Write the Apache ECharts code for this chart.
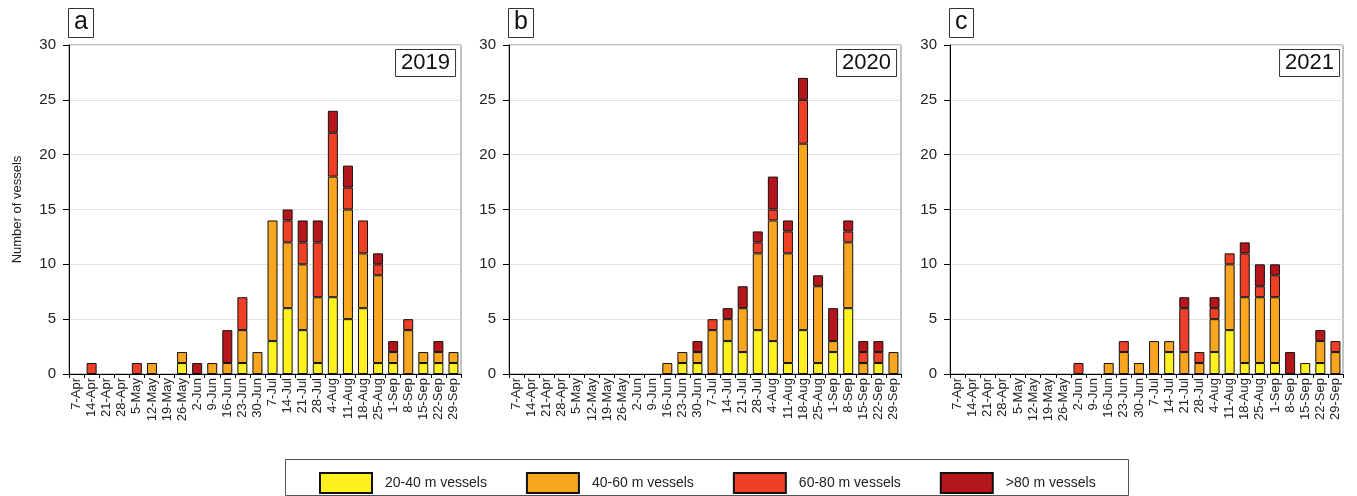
<!DOCTYPE html>
<html>
<head>
<meta charset="utf-8">
<script src="https://cdn.jsdelivr.net/npm/echarts@6/dist/echarts.min.js"></script>
<style>html,body{margin:0;padding:0;background:#fff}#c{width:1357px;height:496px}</style>
</head>
<body>
<div id="c"></div>
<script>
const categories = ['7-Apr','14-Apr','21-Apr','28-Apr','5-May','12-May','19-May','26-May','2-Jun','9-Jun','16-Jun','23-Jun','30-Jun','7-Jul','14-Jul','21-Jul','28-Jul','4-Aug','11-Aug','18-Aug','25-Aug','1-Sep','8-Sep','15-Sep','22-Sep','29-Sep'];
const seriesNames = ['20-40 m vessels','40-60 m vessels','60-80 m vessels','>80 m vessels'];
const years = ['2019','2020','2021'];
const panelLetters = ['a','b','c'];
const yTicks = [0,5,10,15,20,25,30];

// 2019
const v2019_20_40 = [0,0,0,0,0,0,0,1,0,0,0,1,0,3,6,4,1,7,5,6,1,1,0,1,1,1];
const v2019_40_60 = [0,0,0,0,0,1,0,1,0,1,1,3,2,11,6,6,6,11,10,5,8,1,4,1,1,1];
const v2019_60_80 = [0,1,0,0,1,0,0,0,0,0,0,3,0,0,2,2,5,4,2,3,1,0,1,0,0,0];
const v2019_80    = [0,0,0,0,0,0,0,0,1,0,3,0,0,0,1,2,2,2,2,0,1,1,0,0,1,0];
// 2020
const v2020_20_40 = [0,0,0,0,0,0,0,0,0,0,0,1,1,0,3,2,4,3,1,4,1,2,6,0,1,0];
const v2020_40_60 = [0,0,0,0,0,0,0,0,0,0,1,1,1,4,2,4,7,11,10,17,7,1,6,1,0,2];
const v2020_60_80 = [0,0,0,0,0,0,0,0,0,0,0,0,0,1,0,0,1,1,2,4,0,0,1,1,1,0];
const v2020_80    = [0,0,0,0,0,0,0,0,0,0,0,0,1,0,1,2,1,3,1,2,1,3,1,1,1,0];
// 2021
const v2021_20_40 = [0,0,0,0,0,0,0,0,0,0,0,0,0,0,2,0,0,2,4,1,1,1,0,1,1,0];
const v2021_40_60 = [0,0,0,0,0,0,0,0,0,0,1,2,1,3,1,2,1,3,6,6,6,6,0,0,2,2];
const v2021_60_80 = [0,0,0,0,0,0,0,0,1,0,0,1,0,0,0,4,1,1,1,4,1,2,0,0,0,1];
const v2021_80    = [0,0,0,0,0,0,0,0,0,0,0,0,0,0,0,1,0,1,0,1,2,1,2,0,1,0];

const yearData = [
  [v2019_20_40, v2019_40_60, v2019_60_80, v2019_80],
  [v2020_20_40, v2020_40_60, v2020_60_80, v2020_80],
  [v2021_20_40, v2021_40_60, v2021_60_80, v2021_80]
];
const colors = ['#FFF01F','#F8A520','#EE4026','#B5161C'];
const FONT = 'Arial, "Liberation Sans", sans-serif';

const gridLefts = [69, 509, 950];
const gridWidth = 392;
const gridTop = 45, gridHeight = 329;

const grids = [], xAxes = [], yAxes = [], series = [], titles = [];
for (let p = 0; p < 3; p++) {
  grids.push({left: gridLefts[p], top: gridTop, width: gridWidth + (p===2?1:0), height: gridHeight,
    show: true, borderColor: '#888', borderWidth: 1, backgroundColor: 'transparent'});
  xAxes.push({type: 'category', gridIndex: p, data: categories, boundaryGap: true,
    axisLine: {show: true, lineStyle: {color: '#000', width: 1}},
    axisTick: {show: true, alignWithLabel: false, length: 4, lineStyle: {color: '#000'}},
    axisLabel: {rotate: 90, interval: 0, fontSize: 13, color: '#222', fontFamily: FONT, margin: 4}});
  yAxes.push({type: 'value', gridIndex: p, min: yTicks[0], max: yTicks[yTicks.length-1], interval: 5,
    name: p === 0 ? 'Number of vessels' : '', nameLocation: 'middle', nameRotate: 90, nameGap: 45,
    nameTextStyle: {fontSize: 13, color: '#222', fontFamily: FONT},
    axisLine: {show: true, lineStyle: {color: '#000', width: 1}},
    axisTick: {show: true, length: 6, lineStyle: {color: '#000'}},
    axisLabel: {fontSize: 15, color: '#222', fontFamily: FONT, margin: 13},
    splitLine: {show: true, lineStyle: {color: '#e4e2dc', width: 1}}});
  for (let s = 0; s < 4; s++) {
    series.push({type: 'bar', name: seriesNames[s], xAxisIndex: p, yAxisIndex: p, stack: 'y' + p,
      barWidth: 10,
      data: yearData[p][s].map(v => v === 0 ? null : v),
      itemStyle: {color: colors[s], borderColor: '#111', borderWidth: 1},
      emphasis: {disabled: true}});
  }
  titles.push({text: panelLetters[p], left: gridLefts[p] - 1, top: 8,
    borderColor: '#333', borderWidth: 1, padding: [1, 6, 3, 6],
    textStyle: {fontSize: 25, fontWeight: 'normal', color: '#111', fontFamily: FONT, lineHeight: 26}});
}
const yearRights = [901, 460, 17];
for (let p = 0; p < 3; p++) {
  titles.push({text: years[p], right: yearRights[p], top: 49,
    borderColor: '#333', borderWidth: 1, padding: [2, 6, 2, 6],
    textStyle: {fontSize: 22, fontWeight: 'normal', color: '#111', fontFamily: FONT, lineHeight: 24}});
}

const chart = echarts.init(document.getElementById('c'), null, {renderer: 'canvas'});
chart.setOption({
  animation: false,
  backgroundColor: '#fff',
  title: titles,
  grid: grids,
  xAxis: xAxes,
  yAxis: yAxes,
  series: series,
  legend: {
    data: seriesNames, left: 314, top: 467, itemWidth: 52, itemHeight: 20, itemGap: 39,
    icon: 'rect',
    textStyle: {fontSize: 14, color: '#222', fontFamily: FONT, padding: [0, 0, 0, 8]},
    selectedMode: false
  },
  graphic: [{type: 'rect', shape: {x: 285.5, y: 459.5, width: 843, height: 36},
    style: {fill: 'none', stroke: '#555', lineWidth: 1}, silent: true}]
});
</script>
</body>
</html>
